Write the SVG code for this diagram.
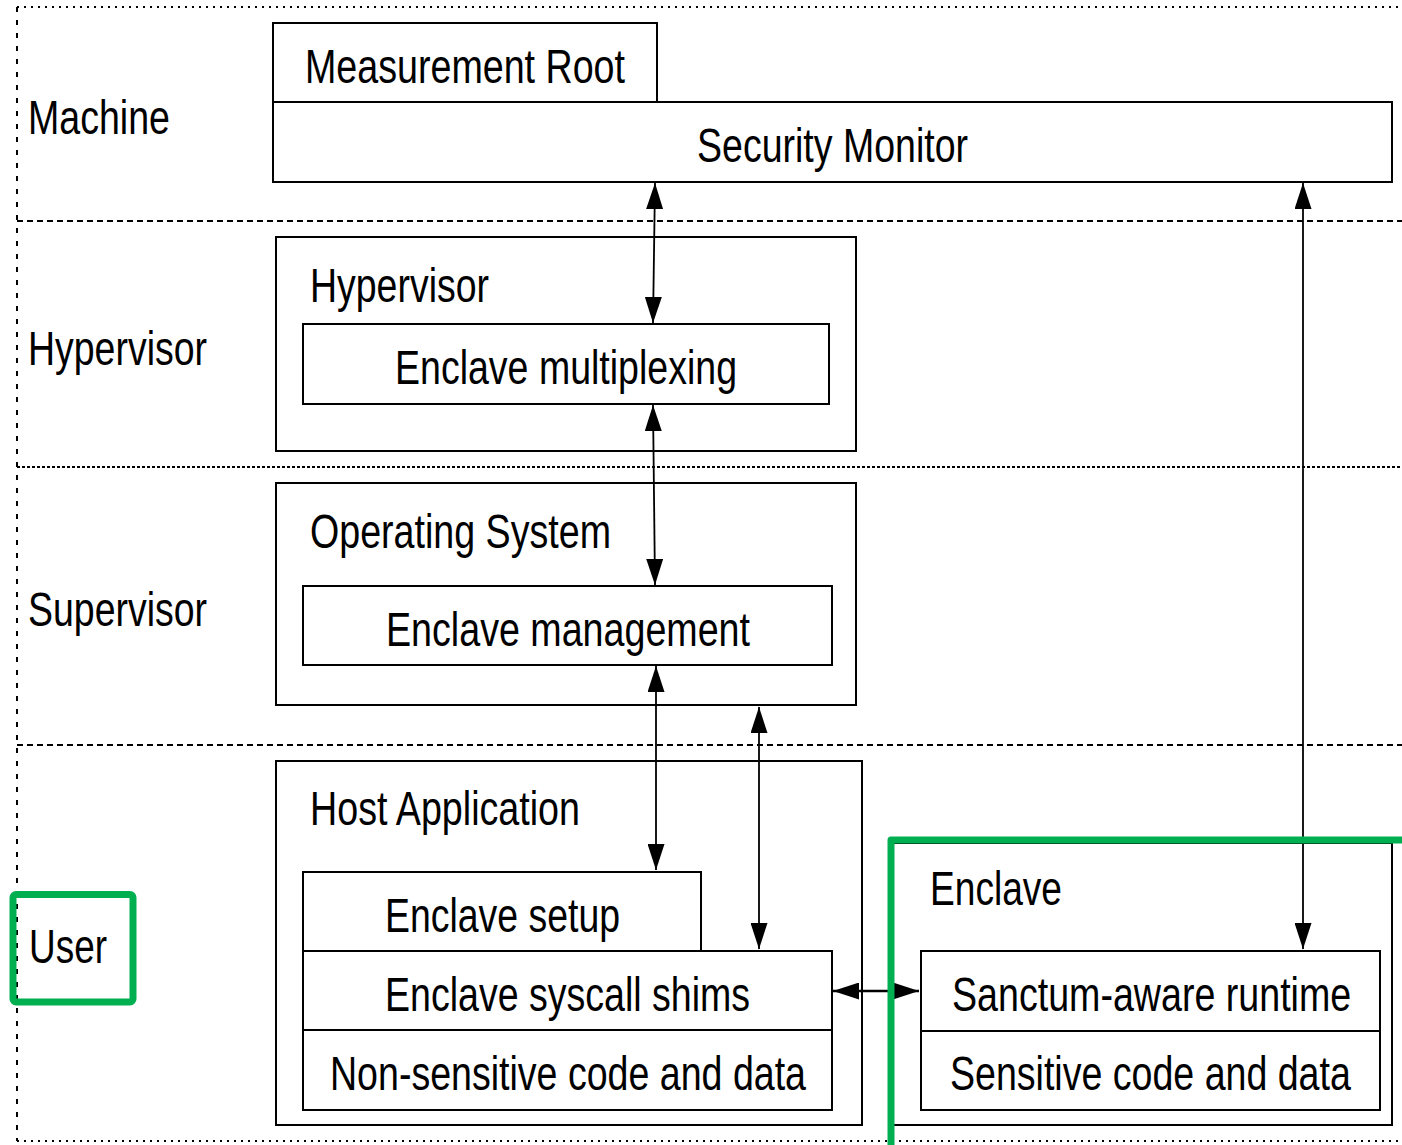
<svg xmlns="http://www.w3.org/2000/svg" width="1402" height="1145" viewBox="0 0 1402 1145">
<style>
text{font-family:"Liberation Sans",Arial,sans-serif;font-size:48px;fill:#000}
.box{fill:#fff;stroke:#000;stroke-width:2}
.dot{fill:none;stroke:#000;stroke-width:2;stroke-dasharray:2 5}
.dash{fill:none;stroke:#000;stroke-width:2;stroke-dasharray:6 4}
.vdot{fill:none;stroke:#000;stroke-width:2;stroke-dasharray:5 8}
.fdot{fill:none;stroke:#000;stroke-width:2;stroke-dasharray:3 2}
.arr{fill:none;stroke:#000;stroke-width:1.8;marker-start:url(#ah);marker-end:url(#ah)}
.green{fill:none;stroke:#00B050;stroke-width:7;stroke-linejoin:round}
</style>
<defs>
<marker id="ah" markerUnits="userSpaceOnUse" markerWidth="27" markerHeight="17" refX="26" refY="8.5" orient="auto-start-reverse" viewBox="0 0 27 17">
<path d="M0,0 L26,8.5 L0,17 z" fill="#000"/>
</marker>
</defs>
<rect width="1402" height="1145" fill="#fff"/>
<g id="layers">
<line class="dot" x1="17" y1="7" x2="1402" y2="7"/>
<line class="vdot" x1="17" y1="7" x2="17" y2="1141"/>
<line class="dot" x1="17" y1="1141" x2="1402" y2="1141"/>
<line class="dash" x1="17" y1="221" x2="1402" y2="221"/>
<line class="fdot" x1="17" y1="467" x2="1402" y2="467"/>
<line class="dash" x1="17" y1="745" x2="1402" y2="745"/>
<text x="28" y="134" textLength="142" lengthAdjust="spacingAndGlyphs">Machine</text>
<text x="28" y="365" textLength="179" lengthAdjust="spacingAndGlyphs">Hypervisor</text>
<text x="28" y="626" textLength="179" lengthAdjust="spacingAndGlyphs">Supervisor</text>
</g>
<g id="user-label">
<rect x="13" y="894.5" width="120" height="107.5" rx="3" class="green"/>
<text x="29" y="963" textLength="78" lengthAdjust="spacingAndGlyphs">User</text>
</g>
<g id="measurement-root">
<rect class="box" x="273" y="23" width="384" height="79"/>
<text x="305" y="83" textLength="320" lengthAdjust="spacingAndGlyphs">Measurement Root</text>
</g>
<g id="security-monitor">
<rect class="box" x="273" y="102" width="1119" height="80"/>
<text x="697" y="162" textLength="271" lengthAdjust="spacingAndGlyphs">Security Monitor</text>
</g>
<g id="hypervisor">
<rect class="box" x="276" y="237" width="580" height="214"/>
<text x="310" y="302" textLength="179" lengthAdjust="spacingAndGlyphs">Hypervisor</text>
</g>
<g id="enclave-multiplexing">
<rect class="box" x="303" y="324" width="526" height="80"/>
<text x="395" y="384" textLength="342" lengthAdjust="spacingAndGlyphs">Enclave multiplexing</text>
</g>
<g id="operating-system">
<rect class="box" x="276" y="483" width="580" height="222"/>
<text x="310" y="548" textLength="301" lengthAdjust="spacingAndGlyphs">Operating System</text>
</g>
<g id="enclave-management">
<rect class="box" x="303" y="586" width="529" height="79"/>
<text x="386" y="646" textLength="364" lengthAdjust="spacingAndGlyphs">Enclave management</text>
</g>
<g id="host-application">
<rect class="box" x="276" y="761" width="586" height="364"/>
<text x="310" y="825" textLength="270" lengthAdjust="spacingAndGlyphs">Host Application</text>
</g>
<g id="enclave-setup">
<rect class="box" x="303" y="872" width="398" height="79"/>
<text x="385" y="932" textLength="235" lengthAdjust="spacingAndGlyphs">Enclave setup</text>
</g>
<g id="enclave-syscall-shims">
<rect class="box" x="303" y="951" width="529" height="79"/>
<text x="385" y="1011" textLength="365" lengthAdjust="spacingAndGlyphs">Enclave syscall shims</text>
</g>
<g id="non-sensitive">
<rect class="box" x="303" y="1030" width="529" height="80"/>
<text x="330" y="1090" textLength="476" lengthAdjust="spacingAndGlyphs">Non-sensitive code and data</text>
</g>
<g id="enclave">
<rect class="box" x="893" y="843" width="499" height="282"/>
<text x="930" y="905" textLength="132" lengthAdjust="spacingAndGlyphs">Enclave</text>
</g>
<g id="sanctum-runtime">
<rect class="box" x="921" y="951" width="459" height="80"/>
<text transform="translate(952,1011) scale(0.8,1)" x="0" y="0" textLength="499" lengthAdjust="spacingAndGlyphs">Sanctum-aware runtime</text>
</g>
<g id="sensitive">
<rect class="box" x="921" y="1031" width="459" height="79"/>
<text transform="translate(950,1090) scale(0.8,1)" x="0" y="0" textLength="501" lengthAdjust="spacingAndGlyphs">Sensitive code and data</text>
</g>
<g id="connectors">
<line class="arr" x1="655" y1="183" x2="653" y2="323"/>
<line class="arr" x1="653" y1="405" x2="655" y2="585"/>
<line class="arr" x1="656" y1="666" x2="656" y2="870"/>
<line class="arr" x1="759" y1="707" x2="759" y2="949"/>
<line class="arr" x1="1303" y1="183" x2="1303" y2="949"/>
<line class="arr" x1="833" y1="991" x2="919" y2="991" style="stroke-width:2.4"/>
</g>
<g id="enclave-highlight">
<path class="green" d="M891 1150 L891 840 L1410 840"/>
</g>
</svg>
